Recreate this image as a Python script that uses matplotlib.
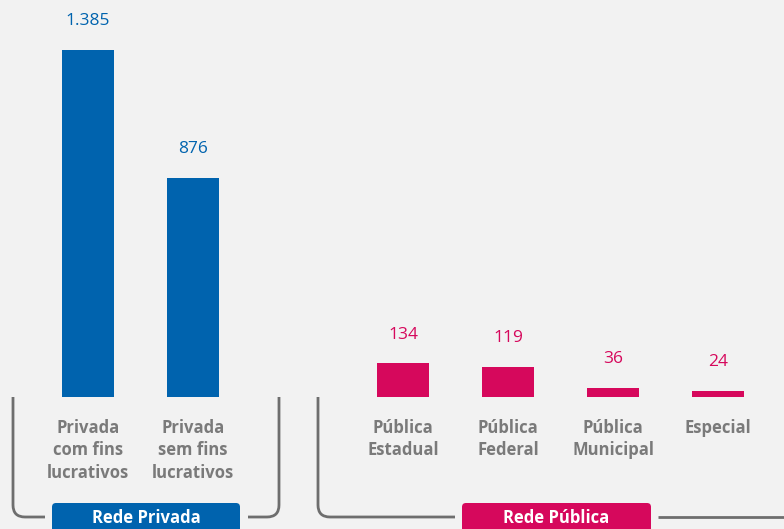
import matplotlib
matplotlib.use("Agg")
import matplotlib.pyplot as plt
from matplotlib.patches import FancyBboxPatch
from matplotlib.path import Path
from matplotlib.patches import PathPatch

categories = ["Privada\ncom fins\nlucrativos", "Privada\nsem fins\nlucrativos",
              "Pública\nEstadual", "Pública\nFederal", "Pública\nMunicipal", "Especial"]
values = [1385, 876, 134, 119, 36, 24]
value_labels = ["1.385", "876", "134", "119", "36", "24"]
groups = ["Rede Privada", "Rede Pública"]
group_of = [0, 0, 1, 1, 1, 1]
positions = [0, 1, 3, 4, 5, 6]

BLUE = "#0063AE"
PINK = "#D6085C"
GRAY = "#7a7a7a"
LINE = "#6e6e6e"
BG = "#f2f2f2"
colors = [BLUE if g == 0 else PINK for g in group_of]

W, H = 784, 529
fig = plt.figure(figsize=(W / 100, H / 100), dpi=100, facecolor=BG)
ax = fig.add_axes([0, 0, 1, 1], facecolor=BG)
x0, step = 88, 105
scale = 347 / 1385
base = 397
ax.set_xlim(-x0 / step, (W - x0) / step)
ax.set_ylim(-(H - base) / scale, base / scale)
ax.axis("off")

ax.bar(positions, values, width=0.5, color=colors, zorder=2)
for p, v, lab, c in zip(positions, values, value_labels, colors):
    ax.annotate(lab, (p, v), xytext=(0, 15), textcoords="offset points",
                ha="center", va="bottom", fontsize=12.5, color=c, family="Open Sans")
for p, cat in zip(positions, categories):
    ax.annotate(cat, (p, 0), xytext=(0, -16), textcoords="offset points",
                ha="center", va="top", fontsize=12, color=GRAY, family="Open Sans",
                fontweight="bold", linespacing=1.3)

# overlay in pixel coordinates for brackets
ov = fig.add_axes([0, 0, 1, 1], facecolor="none")
ov.set_xlim(0, W)
ov.set_ylim(H, 0)
ov.axis("off")

r = 12
yb = 517
def corner_path(xv, ytop, xh_end, left=True):
    if left:
        verts = [(xv, ytop), (xv, yb - r), (xv, yb), (xv + r, yb), (xh_end, yb)]
    else:
        verts = [(xv, ytop), (xv, yb - r), (xv, yb), (xv - r, yb), (xh_end, yb)]
    codes = [Path.MOVETO, Path.LINETO, Path.CURVE3, Path.CURVE3, Path.LINETO]
    ov.add_patch(PathPatch(Path(verts, codes), fill=False, edgecolor=LINE, lw=2,
                           capstyle="butt"))

corner_path(13, 397, 45, left=True)
corner_path(279, 397, 248, left=False)
corner_path(318, 397, 455, left=True)
ov.plot([658, W], [yb, yb], color=LINE, lw=2, solid_capstyle="butt")

boxes = [(52, 240, BLUE), (462, 651, PINK)]
for (xa, xb, c), g in zip(boxes, groups):
    ov.add_patch(FancyBboxPatch((xa, 503), xb - xa, 40,
                                boxstyle="round,pad=0,rounding_size=4",
                                facecolor=c, edgecolor="none"))
    ov.text((xa + xb) / 2, 518, g, ha="center", va="center", color="white",
            fontsize=12, fontweight="bold", family="Open Sans")

fig.savefig("out.png", dpi=100, facecolor=BG)
